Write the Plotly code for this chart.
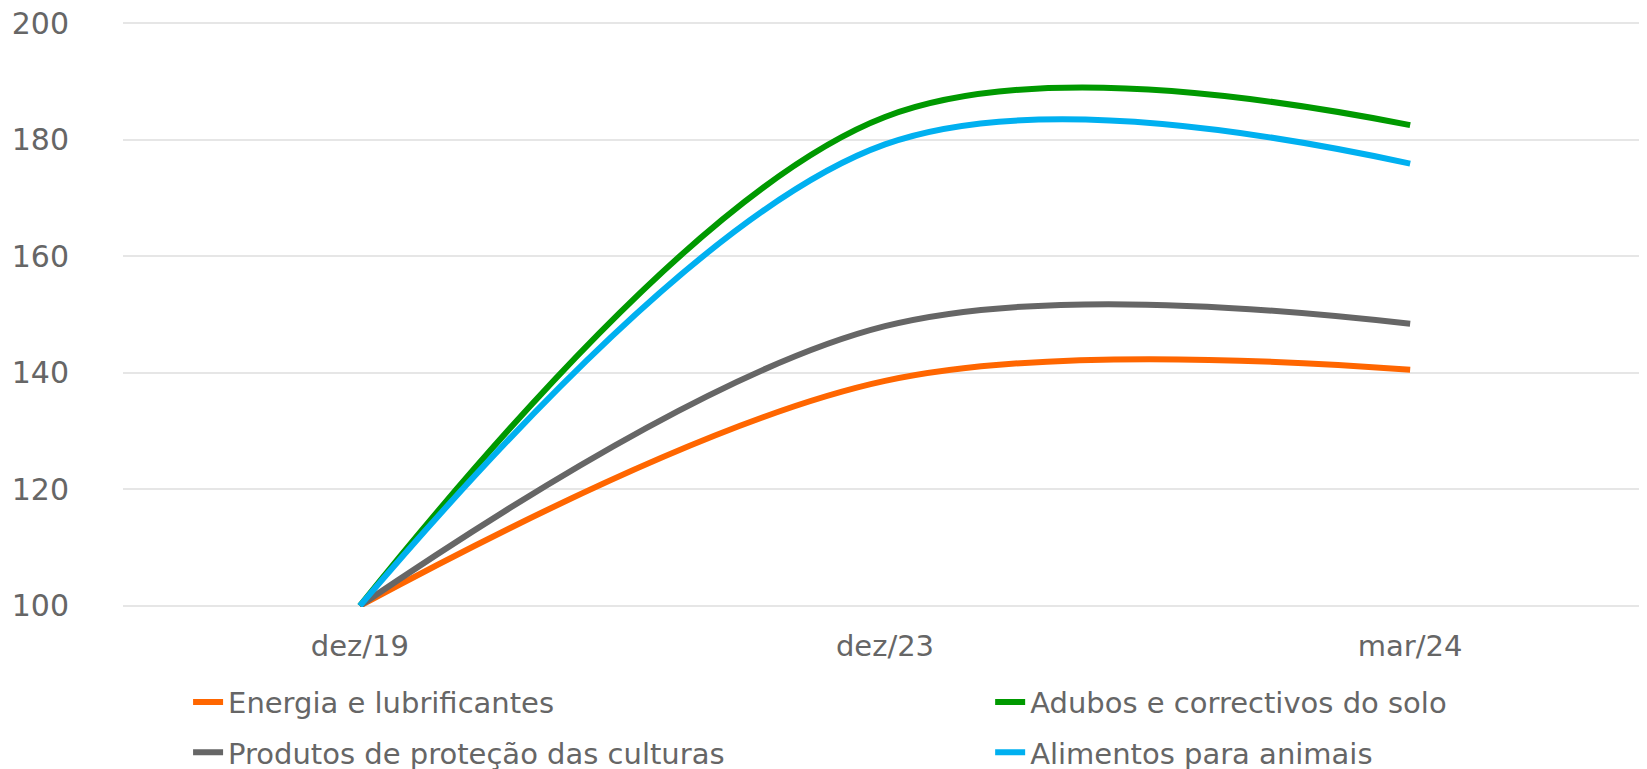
import plotly.graph_objects as go

periodos = ["dez/19", "dez/23", "mar/24"]

energia = [100, 138.6, 140.5]
adubos = [100, 183.9, 182.5]
protecao = [100, 148.0, 148.4]
alimentos = [100, 179.2, 175.9]

series = [
    ("Energia e lubrificantes", energia, "#FF6600", "legend", 0.0427, -0.1627),
    ("Adubos e correctivos do solo", adubos, "#009900", "legend2", 0.569, -0.1627),
    ("Produtos de proteção das culturas", protecao, "#666666", "legend3", 0.0427, -0.2485),
    ("Alimentos para animais", alimentos, "#00B0F0", "legend4", 0.569, -0.2485),
]

fonte = dict(family="DejaVu Sans, Verdana, sans-serif", size=29, color="#666666")

fig = go.Figure()
legendas = {}
for nome, vals, cor, leg, lx, ly in series:
    fig.add_trace(go.Scatter(
        x=periodos, y=vals, name=nome, mode="lines",
        line=dict(color=cor, width=6, shape="spline", smoothing=1),
        legend=leg, showlegend=True,
    ))
    legendas[leg] = dict(orientation="h", x=lx, y=ly, xanchor="left", yanchor="middle",
                         font=fonte, bgcolor="rgba(0,0,0,0)")

# a página tem 8px de margem no body
fig.update_layout(
    width=1639, height=761,
    showlegend=True,
    margin=dict(l=115, r=0, t=14, b=162, autoexpand=False),
    paper_bgcolor="white", plot_bgcolor="white",
    font=fonte,
    xaxis=dict(type="category", range=[-0.451, 2.451], showgrid=False,
               showline=False, zeroline=False, ticks="", tickfont=fonte,
               ticklabelstandoff=19),
    yaxis=dict(range=[99.8, 200.2], tickvals=[100, 120, 140, 160, 180, 200],
               showgrid=True, gridcolor="#E6E6E6",
               gridwidth=2, zeroline=False, showline=False,
               tickfont=dict(fonte, size=30), ticklabelstandoff=53,
               ticklabeloverflow="allow"),
    **legendas,
)

fig.write_html("out.html")
